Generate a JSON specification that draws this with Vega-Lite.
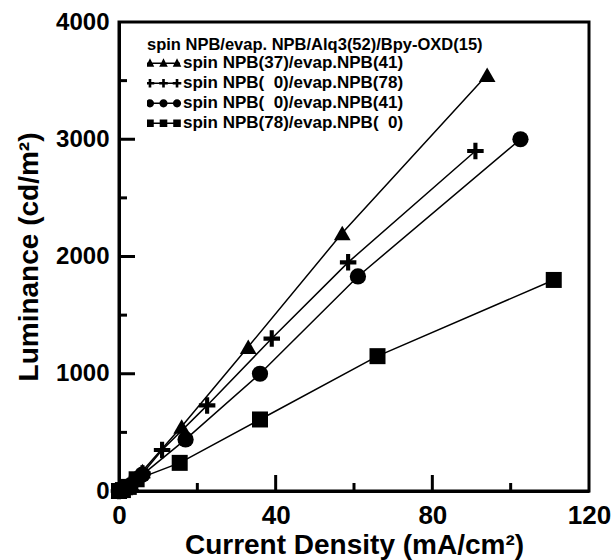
{
  "$schema": "https://vega.github.io/schema/vega-lite/v6.json",
  "width": 470,
  "height": 469,
  "autosize": {"type": "none"},
  "padding": {"left": 119, "top": 22, "right": 23, "bottom": 69},
  "background": "white",
  "config": {
    "font": "Liberation Sans",
    "view": {"stroke": "black", "strokeWidth": 3},
    "axis": {"domainColor": "black", "domainWidth": 3, "grid": false, "ticks": false,
             "labelColor": "black", "titleColor": "black", "labelFontWeight": "bold", "titleFontWeight": "bold",
             "labelOverlap": false, "labelFlush": false, "titleFont": "Liberation Sans", "labelFont": "Liberation Sans"}
  },
  "datasets": {
    "pts": [
      {"s": "A", "x": 0, "y": 0}, {"s": "A", "x": 0.5, "y": 5}, {"s": "A", "x": 1.5, "y": 25}, {"s": "A", "x": 3, "y": 70},
      {"s": "A", "x": 6, "y": 170}, {"s": "A", "x": 16, "y": 550}, {"s": "A", "x": 33, "y": 1230}, {"s": "A", "x": 57, "y": 2200}, {"s": "A", "x": 94, "y": 3550},
      {"s": "B", "x": 0, "y": 0}, {"s": "B", "x": 1, "y": 10}, {"s": "B", "x": 3, "y": 60}, {"s": "B", "x": 6, "y": 150},
      {"s": "B", "x": 11, "y": 350}, {"s": "B", "x": 22.5, "y": 730}, {"s": "B", "x": 39, "y": 1300}, {"s": "B", "x": 58.5, "y": 1950}, {"s": "B", "x": 91, "y": 2900},
      {"s": "C", "x": 0, "y": 0}, {"s": "C", "x": 1, "y": 8}, {"s": "C", "x": 3, "y": 50}, {"s": "C", "x": 6, "y": 140},
      {"s": "C", "x": 17, "y": 440}, {"s": "C", "x": 36, "y": 1000}, {"s": "C", "x": 61, "y": 1830}, {"s": "C", "x": 102.5, "y": 3000},
      {"s": "D", "x": 0, "y": 0}, {"s": "D", "x": 1, "y": 8}, {"s": "D", "x": 2.5, "y": 35}, {"s": "D", "x": 4.5, "y": 100},
      {"s": "D", "x": 15.5, "y": 240}, {"s": "D", "x": 36, "y": 610}, {"s": "D", "x": 66, "y": 1150}, {"s": "D", "x": 111, "y": 1800}
    ],
    "xMajor": [{"v": 40}, {"v": 80}],
    "xMinor": [{"v": 20}, {"v": 60}, {"v": 100}],
    "yMajor": [{"v": 1000}, {"v": 2000}, {"v": 3000}],
    "yMinor": [{"v": 500}, {"v": 1500}, {"v": 2500}, {"v": 3500}]
  },
  "layer": [
    {"data": {"name": "pts"},
     "mark": {"type": "line", "color": "black", "strokeWidth": 1.5, "clip": false},
     "encoding": {
       "x": {"field": "x", "type": "quantitative", "scale": {"domain": [0, 120], "nice": false, "zero": false},
             "axis": {"orient": "bottom", "title": "Current Density (mA/cm²)", "values": [0, 40, 80, 120],
                      "labelFontSize": 26, "labelPadding": 11, "titleFontSize": 28, "titlePadding": 3}},
       "y": {"field": "y", "type": "quantitative", "scale": {"domain": [0, 4000], "nice": false, "zero": false},
             "axis": {"orient": "left", "title": "Luminance (cd/m²)", "values": [0, 1000, 2000, 3000, 4000], "format": "d",
                      "labelFontSize": 24, "labelPadding": 10, "titleFontSize": 28, "titlePadding": 12}},
       "detail": {"field": "s"}}},
    {"data": {"name": "xMajor"},
     "mark": {"type": "tick", "orient": "vertical", "color": "black", "size": 16, "thickness": 3, "yOffset": -8, "opacity": 1, "clip": false},
     "encoding": {"x": {"field": "v", "type": "quantitative", "scale": {"domain": [0, 120], "nice": false, "zero": false}},
                  "y": {"datum": 0, "type": "quantitative", "scale": {"domain": [0, 4000], "nice": false, "zero": false}}}},
    {"data": {"name": "xMinor"},
     "mark": {"type": "tick", "orient": "vertical", "color": "black", "size": 8, "thickness": 3, "yOffset": -4, "opacity": 1, "clip": false},
     "encoding": {"x": {"field": "v", "type": "quantitative", "scale": {"domain": [0, 120], "nice": false, "zero": false}},
                  "y": {"datum": 0, "type": "quantitative", "scale": {"domain": [0, 4000], "nice": false, "zero": false}}}},
    {"data": {"name": "yMajor"},
     "mark": {"type": "tick", "orient": "horizontal", "color": "black", "size": 16, "thickness": 3, "xOffset": 8, "opacity": 1, "clip": false},
     "encoding": {"y": {"field": "v", "type": "quantitative", "scale": {"domain": [0, 4000], "nice": false, "zero": false}},
                  "x": {"datum": 0, "type": "quantitative", "scale": {"domain": [0, 120], "nice": false, "zero": false}}}},
    {"data": {"name": "yMinor"},
     "mark": {"type": "tick", "orient": "horizontal", "color": "black", "size": 8, "thickness": 3, "xOffset": 4, "opacity": 1, "clip": false},
     "encoding": {"y": {"field": "v", "type": "quantitative", "scale": {"domain": [0, 4000], "nice": false, "zero": false}},
                  "x": {"datum": 0, "type": "quantitative", "scale": {"domain": [0, 120], "nice": false, "zero": false}}}},
    {"data": {"name": "pts"},
     "mark": {"type": "point", "filled": true, "color": "black", "opacity": 1, "clip": false},
     "encoding": {
       "x": {"field": "x", "type": "quantitative", "scale": {"domain": [0, 120], "nice": false, "zero": false}},
       "y": {"field": "y", "type": "quantitative", "scale": {"domain": [0, 4000], "nice": false, "zero": false}},
       "shape": {"field": "s", "type": "nominal", "legend": null,
                 "scale": {"domain": ["A", "B", "C", "D"],
                           "range": ["triangle-up", "M-1,-0.25H-0.25V-1H0.25V-0.25H1V0.25H0.25V1H-0.25V0.25H-1Z", "circle", "square"]}},
       "size": {"field": "s", "type": "nominal", "legend": null,
                "scale": {"domain": ["A", "B", "C", "D"], "range": [280, 256, 190, 200]}}
     }},
    {"data": {"name": "pts"},
     "mark": {"type": "point", "filled": true, "color": "black", "opacity": 0, "size": 1089},
     "encoding": {
       "x": {"field": "x", "type": "quantitative", "scale": {"domain": [0, 120], "nice": false, "zero": false}},
       "y": {"field": "y", "type": "quantitative", "scale": {"domain": [0, 4000], "nice": false, "zero": false}},
       "shape": {"field": "s", "type": "nominal",
                 "scale": {"domain": ["A", "B", "C", "D"],
                           "range": [
                             "M-1,-0.04H1V0.04H-1ZM-0.82,-0.3L-0.56,0.21L-1.08,0.21ZM0,-0.3L0.26,0.21L-0.26,0.21ZM0.82,-0.3L1.08,0.21L0.56,0.21Z",
                             "M-1,-0.04H1V0.04H-1ZM-1.08,-0.08H-0.9V-0.26H-0.74V-0.08H-0.56V0.08H-0.74V0.26H-0.9V0.08H-1.08ZM-0.26,-0.08H-0.08V-0.26H0.08V-0.08H0.26V0.08H0.08V0.26H-0.08V0.08H-0.26ZM0.56,-0.08H0.74V-0.26H0.9V-0.08H1.08V0.08H0.9V0.26H0.74V0.08H0.56Z",
                             "M-1,-0.04H1V0.04H-1ZM-1.07,0A0.25,0.25,0,1,1,-0.57,0A0.25,0.25,0,1,1,-1.07,0ZM-0.25,0A0.25,0.25,0,1,1,0.25,0A0.25,0.25,0,1,1,-0.25,0ZM0.57,0A0.25,0.25,0,1,1,1.07,0A0.25,0.25,0,1,1,0.57,0Z",
                             "M-1,-0.04H1V0.04H-1ZM-1.05,-0.23H-0.59V0.23H-1.05ZM-0.23,-0.23H0.23V0.23H-0.23ZM0.59,-0.23H1.05V0.23H0.59Z"
                           ]},
                 "legend": {
                   "title": "spin NPB/evap. NPB/Alq3(52)/Bpy-OXD(15)",
                   "orient": "none", "legendX": 28, "legendY": 15, "padding": 0,
                   "titleFontSize": 16.5, "titleFontWeight": "bold", "titleColor": "black", "titlePadding": 0, "titleLimit": 600,
                   "labelFontSize": 17, "labelFontWeight": "bold", "labelColor": "black", "labelOffset": 3,
                   "labelExpr": "{'A': 'spin NPB(37)/evap.NPB(41)', 'B': 'spin NPB(\u00a0\u00a00)/evap.NPB(78)', 'C': 'spin NPB(\u00a0\u00a00)/evap.NPB(41)', 'D': 'spin NPB(78)/evap.NPB(\u00a0\u00a00)'}[datum.value]",
                   "symbolSize": 1089, "symbolStrokeWidth": 0, "symbolFillColor": "black",
                   "symbolOpacity": 1, "symbolOffset": 0, "clipHeight": 19.5, "rowPadding": 0, "labelLimit": 400,
                   "encode": {"symbols": {"opacity": {"value": 1}, "fill": {"value": "black"}}}
                 }}
     }}
  ],
  "resolve": {"scale": {"shape": "independent", "size": "independent"}, "legend": {"shape": "independent"}}
}
